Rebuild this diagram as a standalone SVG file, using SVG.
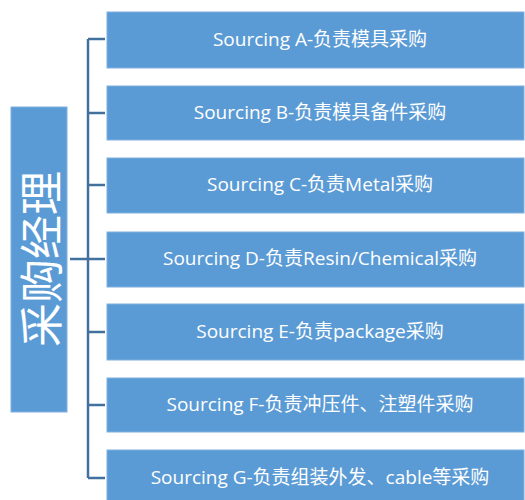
<svg xmlns="http://www.w3.org/2000/svg" width="525" height="500" viewBox="0 0 525 500">
<style>
.box{fill:#5b9bd5;stroke:#7fb0de;stroke-width:1}
.lbl{fill:#ffffff;font-family:"Open Sans","Noto Sans CJK SC",sans-serif;font-size:19px;text-anchor:middle;dominant-baseline:central}
.big{fill:#ffffff;font-family:"Noto Sans CJK SC",sans-serif;font-size:44px;text-anchor:middle;dominant-baseline:central}
.conn{stroke:#41719c;stroke-width:2.5;fill:none}
</style>
<rect width="525" height="500" fill="#ffffff"/>
<g id="connectors">
<path class="conn" d="M88,39 V478 M70,259 H88 M88,39 H105 M88,113 H105 M88,185 H105 M88,259 H105 M88,332 H105 M88,405 H105 M88,478 H105"/>
</g>
<g id="manager">
<rect class="box" x="11" y="107" width="56" height="305"/>
<text class="big" transform="translate(39,259) rotate(-90)">采购经理</text>
</g>
<g id="a"><rect class="box" x="107" y="12" width="417" height="56"/><text class="lbl" x="320" y="39">Sourcing A-负责模具采购</text></g>
<g id="b"><rect class="box" x="107" y="86" width="417" height="54"/><text class="lbl" x="320" y="112">Sourcing B-负责模具备件采购</text></g>
<g id="c"><rect class="box" x="107" y="158" width="417" height="55"/><text class="lbl" x="320" y="184">Sourcing C-负责Metal采购</text></g>
<g id="d"><rect class="box" x="107" y="232" width="417" height="55"/><text class="lbl" x="320" y="258">Sourcing D-负责Resin/Chemical采购</text></g>
<g id="e"><rect class="box" x="107" y="304" width="417" height="56"/><text class="lbl" x="320" y="331">Sourcing E-负责package采购</text></g>
<g id="f"><rect class="box" x="107" y="378" width="417" height="54"/><text class="lbl" x="320" y="404">Sourcing F-负责冲压件、注塑件采购</text></g>
<g id="g"><rect class="box" x="107" y="450" width="417" height="56"/><text class="lbl" x="320" y="477">Sourcing G-负责组装外发、cable等采购</text></g>
</svg>
